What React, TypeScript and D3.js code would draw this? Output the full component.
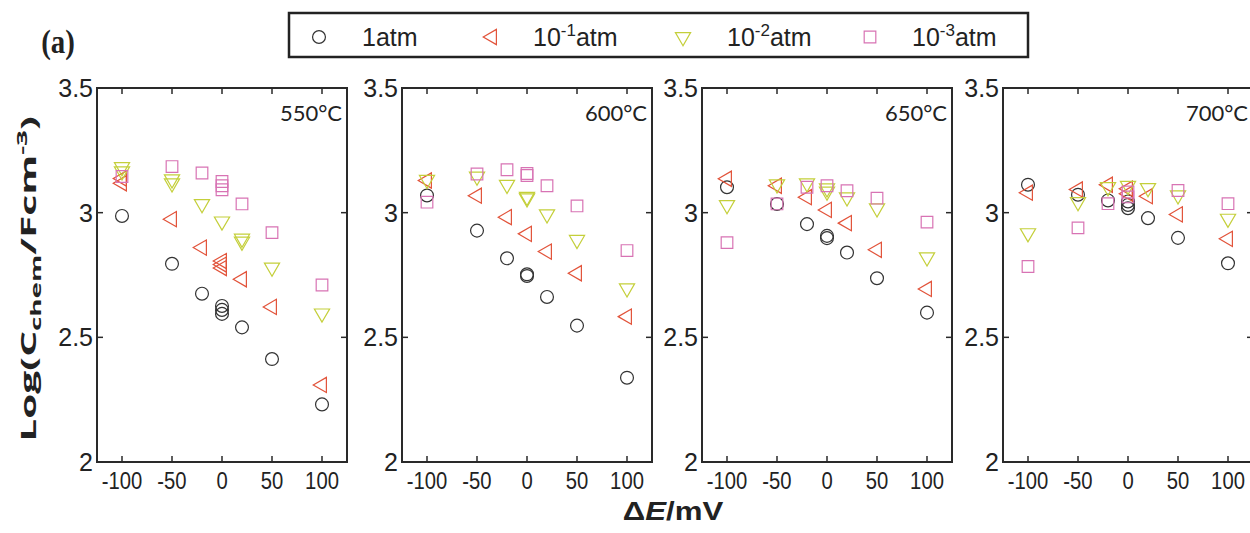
import React from "react";
import * as d3 from "d3";

// ---------- data ----------
const panelTemps = ["550°C", "600°C", "650°C", "700°C"];
const seriesNames = ["1atm", "10^-1atm", "10^-2atm", "10^-3atm"];
const xTicks = [-100, -50, 0, 50, 100];
const yTicks = [2, 2.5, 3, 3.5];

// 550 °C
const t550_1atm = [[-100, 2.987], [-50, 2.795], [-20, 2.675], [0, 2.626], [0, 2.61], [0, 2.594], [20, 2.54], [50, 2.413], [100, 2.231]];
const t550_1m1 = [[-100, 3.137], [-100, 3.118], [-50, 2.974], [-20, 2.86], [0, 2.806], [0, 2.792], [0, 2.778], [20, 2.733], [50, 2.622], [100, 2.309]];
const t550_1m2 = [[-100, 3.183], [-100, 3.166], [-50, 3.134], [-50, 3.118], [-20, 3.035], [0, 2.965], [20, 2.896], [20, 2.884], [50, 2.78], [100, 2.596]];
const t550_1m3 = [[-100, 3.145], [-50, 3.185], [-20, 3.159], [0, 3.125], [0, 3.108], [0, 3.092], [20, 3.035], [50, 2.92], [100, 2.71]];
// 600 °C
const t600_1atm = [[-100, 3.069], [-50, 2.928], [-20, 2.817], [0, 2.753], [0, 2.746], [20, 2.662], [50, 2.547], [100, 2.338]];
const t600_1m1 = [[-100, 3.129], [-50, 3.068], [-20, 2.982], [0, 2.915], [20, 2.844], [50, 2.757], [100, 2.583]];
const t600_1m2 = [[-100, 3.132], [-50, 3.145], [-20, 3.112], [0, 3.064], [0, 3.058], [20, 2.994], [50, 2.891], [100, 2.697]];
const t600_1m3 = [[-100, 3.042], [-50, 3.155], [-20, 3.172], [0, 3.157], [0, 3.149], [20, 3.108], [50, 3.027], [100, 2.848]];
// 650 °C
const t650_1atm = [[-100, 3.102], [-50, 3.035], [-20, 2.954], [0, 2.907], [0, 2.898], [20, 2.84], [50, 2.737], [100, 2.599]];
const t650_1m1 = [[-100, 3.136], [-50, 3.108], [-20, 3.062], [0, 3.011], [20, 2.958], [50, 2.851], [100, 2.694]];
const t650_1m2 = [[-100, 3.031], [-50, 3.114], [-20, 3.118], [0, 3.098], [0, 3.085], [20, 3.062], [50, 3.018], [100, 2.821]];
const t650_1m3 = [[-100, 2.88], [-50, 3.035], [-20, 3.102], [0, 3.108], [20, 3.088], [50, 3.058], [100, 2.962]];
// 700 °C
const t700_1atm = [[-100, 3.112], [-50, 3.072], [-20, 3.049], [0, 3.045], [0, 3.031], [0, 3.018], [20, 2.978], [50, 2.899], [100, 2.797]];
const t700_1m1 = [[-100, 3.08], [-50, 3.093], [-20, 3.112], [0, 3.096], [0, 3.076], [20, 3.066], [50, 2.993], [100, 2.895]];
const t700_1m2 = [[-100, 2.918], [-50, 3.043], [-20, 3.103], [0, 3.108], [20, 3.099], [50, 3.07], [100, 2.976]];
const t700_1m3 = [[-100, 2.784], [-50, 2.939], [-20, 3.036], [0, 3.083], [0, 3.063], [50, 3.089], [100, 3.036]];

const panelData = [
  [t550_1atm, t550_1m1, t550_1m2, t550_1m3],
  [t600_1atm, t600_1m1, t600_1m2, t600_1m3],
  [t650_1atm, t650_1m1, t650_1m2, t650_1m3],
  [t700_1atm, t700_1m1, t700_1m2, t700_1m3],
];

// ---------- styles ----------
const colors = ["#333333", "#e2533a", "#c4cf3a", "#d873b4"];
const panelLefts = [97, 402, 702, 1003];
const panelW = 250;
const panelTop = 88;
const panelBottom = 462;
const axisColor = "#2a2a2a";
const sans = "Liberation Sans, Arial, sans-serif";

const symCircle = d3.symbol().type(d3.symbolCircle).size(130)();
const symTri = d3.symbol().type(d3.symbolTriangle).size(100)();
const symSquare = d3.symbol().type(d3.symbolSquare).size(135)();

function Marker({ kind, x, y, color }: { kind: number; x: number; y: number; color: string }) {
  const common = { fill: "none", stroke: color, strokeWidth: 1.2 };
  if (kind === 0) return <path d={symCircle as string} transform={`translate(${x},${y})`} {...common} />;
  if (kind === 1) return <path d={symTri as string} transform={`translate(${x},${y}) rotate(-90)`} {...common} />;
  if (kind === 2) return <path d={symTri as string} transform={`translate(${x},${y}) rotate(180)`} {...common} />;
  return <path d={symSquare as string} transform={`translate(${x},${y})`} {...common} />;
}

function Panel({ idx }: { idx: number }) {
  const left = panelLefts[idx];
  const x = d3.scaleLinear().domain([-125, 125]).range([left, left + panelW]);
  const y = d3.scaleLinear().domain([2, 3.5]).range([panelBottom, panelTop]);
  const tl = 6;
  return (
    <g>
      {panelData[idx].map((series, si) =>
        series.map((p, pi) => (
          <Marker key={`${si}-${pi}`} kind={si} x={x(p[0])} y={y(p[1])} color={colors[si]} />
        ))
      )}
      <rect x={left} y={panelTop} width={panelW} height={panelBottom - panelTop} fill="none" stroke={axisColor} strokeWidth={2} />
      {xTicks.map((t) => (
        <g key={`xt${t}`}>
          <line x1={x(t)} x2={x(t)} y1={panelBottom} y2={panelBottom - tl} stroke={axisColor} strokeWidth={1.5} />
          <line x1={x(t)} x2={x(t)} y1={panelTop} y2={panelTop + tl} stroke={axisColor} strokeWidth={1.5} />
          <text transform={`translate(${x(t)},489) scale(0.88,1)`} textAnchor="middle" fontFamily={sans} fontSize={23} fill="#222">
            {t}
          </text>
        </g>
      ))}
      {yTicks.map((t) => (
        <g key={`yt${t}`}>
          <line x1={left} x2={left + tl} y1={y(t)} y2={y(t)} stroke={axisColor} strokeWidth={1.5} />
          <line x1={left + panelW} x2={left + panelW - tl} y1={y(t)} y2={y(t)} stroke={axisColor} strokeWidth={1.5} />
          <text x={left - 4} y={y(t) + 9} textAnchor="end" fontFamily={sans} fontSize={25} fill="#222">
            {t}
          </text>
        </g>
      ))}
      <text x={left + panelW - 5} y={121} textAnchor="end" fontFamily="Lato, Open Sans, sans-serif" fontSize={22} fill="#222">
        {panelTemps[idx]}
      </text>
    </g>
  );
}

function LegendLabel({ name, x }: { name: string; x: number }) {
  const parts = name.split("^");
  if (parts.length === 1)
    return (
      <text x={x} y={46} fontFamily={sans} fontSize={25} fill="#222">
        {name}
      </text>
    );
  const exp = parts[1].slice(0, 2);
  const rest = parts[1].slice(2);
  return (
    <text x={x} y={46} fontFamily={sans} fontSize={25} fill="#222">
      {parts[0]}
      <tspan dy={-10} fontSize={17}>{exp}</tspan>
      <tspan dy={10}>{rest}</tspan>
    </text>
  );
}

export default function App() {
  const legendMarkX = [319, 492, 683, 870];
  const legendTextX = [362, 533, 727, 912];
  return (
    <svg width={1250} height={533} style={{ position: "absolute", left: 0, top: 0, background: "#fff" }}>
      <rect x={0} y={0} width={1250} height={533} fill="#fff" />
      <text transform="translate(58,53) scale(0.85,1)" textAnchor="middle" fontFamily="Liberation Serif, Times New Roman, serif" fontWeight="bold" fontSize={34} fill="#222">
        (a)
      </text>
      <rect x={289} y={13} width={739} height={44} fill="none" stroke="#222" strokeWidth={2.5} />
      {seriesNames.map((n, i) => (
        <g key={n}>
          <Marker kind={i} x={legendMarkX[i]} y={37} color={colors[i]} />
          <LegendLabel name={n} x={legendTextX[i]} />
        </g>
      ))}
      {panelTemps.map((_, i) => (
        <Panel key={i} idx={i} />
      ))}
      <text transform="translate(36,279) rotate(-90) scale(1.85,1)" textAnchor="middle" fontFamily="Open Sans, Lato, sans-serif" fontWeight="bold" fontSize={22} fill="#222">
        Log(C
        <tspan dy={5} fontSize={15}>chem</tspan>
        <tspan dy={-5}>/Fcm</tspan>
        <tspan dy={-9} fontSize={15}>-3</tspan>
        <tspan dy={9}>)</tspan>
      </text>
      <text transform="translate(673,520) scale(1.2,1)" textAnchor="middle" fontFamily={sans} fontWeight="bold" fontSize={26} fill="#222">
        Δ<tspan fontStyle="italic">E</tspan>/mV
      </text>
    </svg>
  );
}
